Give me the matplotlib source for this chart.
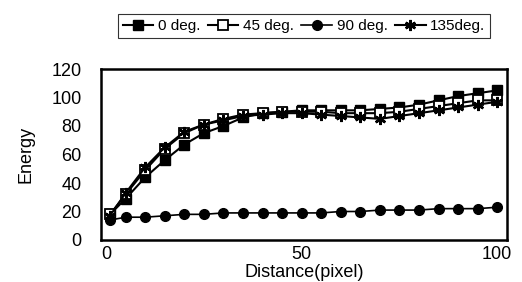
import matplotlib.pyplot as plt

plt.rcParams['font.family'] = ['Liberation Sans', 'DejaVu Sans']

distance = [1, 5, 10, 15, 20, 25, 30, 35, 40, 45, 50,
            55, 60, 65, 70, 75, 80, 85, 90, 95, 100]

deg0 = [18, 29, 44, 56, 67, 75, 80, 86, 89, 90, 91,
        91, 91, 91, 92, 93, 95, 98, 101, 103, 105]
deg45 = [18, 32, 49, 64, 75, 81, 85, 88, 89, 90, 90,
         90, 89, 89, 89, 90, 92, 94, 96, 98, 98]
deg90 = [14, 16, 16, 17, 18, 18, 19, 19, 19, 19, 19,
         19, 20, 20, 21, 21, 21, 22, 22, 22, 23]
deg135 = [17, 33, 51, 65, 76, 81, 84, 87, 88, 89, 89,
          88, 87, 86, 85, 87, 89, 91, 93, 95, 97]

fig = plt.figure(figsize=(5.22, 2.82), dpi=100)
ax = fig.add_axes([101 / 522, 42 / 282, 406 / 522, 171 / 282])

ax.plot(distance, deg0, color='black', lw=1.5, marker='s', ms=7, label='0 deg.')
ax.plot(distance, deg45, color='black', lw=1.5, marker='s', ms=7,
        mfc='white', mew=1.3, label='45 deg.')
ax.plot(distance, deg90, color='black', lw=1.2, marker='o', ms=7, label='90 deg.')
ax.plot(distance, deg135, color='black', lw=1.5, marker=(6, 2, 0), ms=8,
        mew=1.8, label='135deg.')

ax.set_xlim(-1.3, 102.5)
ax.set_ylim(0, 120)
ax.set_xticks([0, 50, 100])
ax.set_yticks(range(0, 121, 20))
ax.tick_params(axis='y', length=0, labelsize=13, pad=14)
ax.tick_params(axis='x', length=0, labelsize=13, pad=4)
for s in ax.spines.values():
    s.set_linewidth(1.8)

ax.set_xlabel('Distance(pixel)', fontsize=13, labelpad=1)
ax.set_ylabel('Energy', fontsize=13, labelpad=12)

leg = fig.legend(loc='center', bbox_to_anchor=(304 / 522, 1 - 26 / 282), ncol=4,
                 fontsize=11, frameon=True, fancybox=False, edgecolor='black',
                 handlelength=2.0, handletextpad=0.3, columnspacing=0.5,
                 borderpad=0.3)
leg.get_frame().set_linewidth(0.8)

fig.savefig('out.png', dpi=100)
